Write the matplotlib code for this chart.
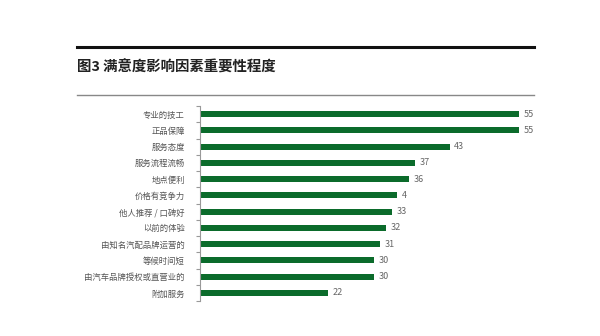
import matplotlib
matplotlib.use('Agg')
import matplotlib.pyplot as plt
from matplotlib.ticker import FixedLocator
import numpy as np

plt.rcParams['font.family'] = ['Noto Sans CJK SC', 'DejaVu Sans']

# data
categories = ['专业的技工', '正品保障', '服务态度', '服务流程流畅', '地点便利', '价格有竞争力',
              '他人推荐 / 口碑好', '以前的体验', '由知名汽配品牌运营的', '等候时间短',
              '由汽车品牌授权或直营业的', '附加服务']
values = [55, 55, 43, 37, 36, 34, 33, 32, 31, 30, 30, 22]
value_labels = ['55', '55', '43', '37', '36', '4', '33', '32', '31', '30', '30', '22']

fig = plt.figure(figsize=(6, 3.36), dpi=100)
fig.patch.set_facecolor('white')

# header rules and title
fig.add_artist(plt.Line2D([77/600, 534/600], [1-47/336, 1-47/336], color='#111111', lw=2.2))
fig.add_artist(plt.Line2D([77/600, 534/600], [1-95/336, 1-95/336], color='#888888', lw=1.0))
fig.text(77/600, 1-67/336, '图3 满意度影响因素重要性程度', ha='left', va='center',
         fontsize=10.4, fontweight='bold', color='#222222')

ax = fig.add_axes([200/600, 1-301/336, 360/600, 195/336])
y = np.arange(len(categories))
ax.barh(y, values, height=0.38, color='#0B6B2B')
ax.set_xlim(0, 62)
ax.set_ylim(len(categories)-0.5, -0.5)

for yi, v, lab in zip(y, values, value_labels):
    ax.text(v + 0.8, yi, lab, ha='left', va='center', fontsize=6.5, color='#666666')

ax.set_yticks(y)
ax.set_yticklabels(categories, fontsize=6, color='#555555')
ax.tick_params(axis='y', which='major', length=0, pad=11)
ax.yaxis.set_minor_locator(FixedLocator(np.arange(-0.5, len(categories), 1)))
ax.tick_params(axis='y', which='minor', length=3, color='#999999', width=0.8)
ax.set_xticks([])
for s in ['top', 'right', 'bottom']:
    ax.spines[s].set_visible(False)
ax.spines['left'].set_color('#999999')
ax.spines['left'].set_linewidth(0.8)

fig.savefig('out.png', dpi=100, facecolor='white')
